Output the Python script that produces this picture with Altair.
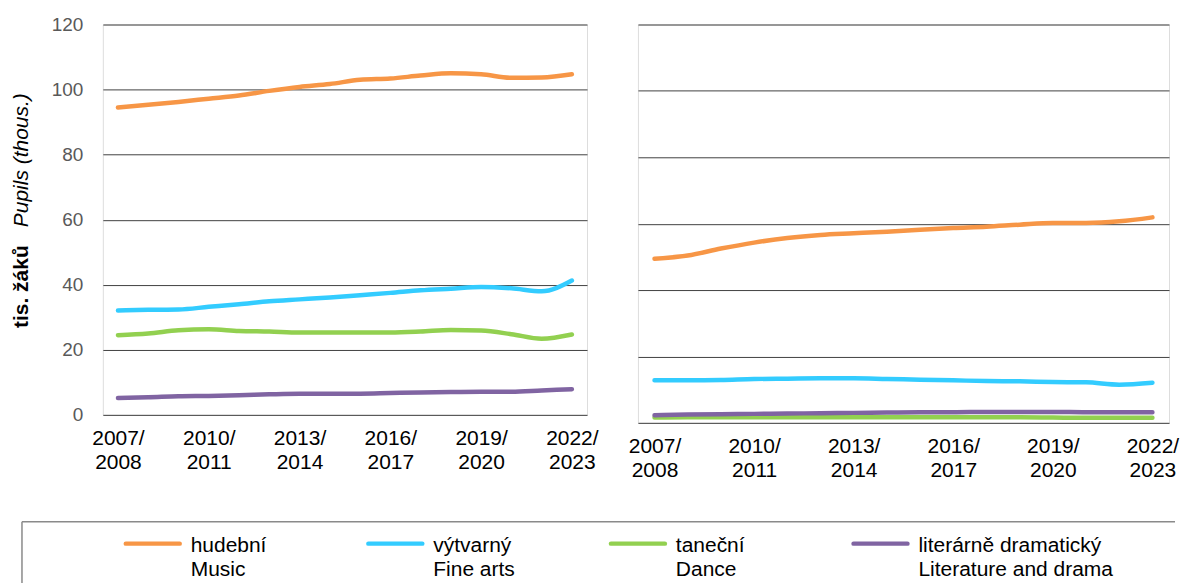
import altair as alt
import pandas as pd

FONT = "Liberation Sans"

# ---- data ----
years = [2007, 2008, 2009, 2010, 2011, 2012, 2013, 2014,
         2015, 2016, 2017, 2018, 2019, 2020, 2021, 2022]
tick_years = [2007, 2010, 2013, 2016, 2019, 2022]
y_ticks = [0, 20, 40, 60, 80, 100, 120]

series_cz = ["hudební", "výtvarný", "taneční", "literárně dramatický"]
series_en = ["Music", "Fine arts", "Dance", "Literature and drama"]
colors = ["#F79646", "#33CCFF", "#92D050", "#8064A2"]

# left panel (thous.)
music_a = [94.5, 95.3, 96.2, 97.2, 98.2, 99.6, 100.8, 101.7, 103.0, 103.4, 104.3, 105.0, 104.7, 103.6, 103.7, 104.7]
fine_a = [32.1, 32.3, 32.4, 33.2, 34.0, 34.9, 35.5, 36.1, 36.8, 37.5, 38.3, 38.8, 39.3, 38.9, 38.0, 41.3]
dance_a = [24.5, 25.0, 26.0, 26.3, 25.8, 25.6, 25.3, 25.3, 25.3, 25.3, 25.6, 26.1, 25.9, 24.8, 23.4, 24.7]
lit_a = [5.2, 5.4, 5.7, 5.8, 6.0, 6.3, 6.5, 6.5, 6.5, 6.7, 6.9, 7.0, 7.1, 7.1, 7.5, 7.9]

# right panel (thous.)
music_b = [49.4, 50.4, 52.5, 54.3, 55.7, 56.6, 57.1, 57.6, 58.2, 58.7, 59.1, 59.7, 60.2, 60.2, 60.7, 61.9]
fine_b = [12.8, 12.8, 12.9, 13.2, 13.3, 13.4, 13.4, 13.2, 13.0, 12.8, 12.6, 12.5, 12.3, 12.2, 11.5, 12.1]
dance_b = [1.6, 1.7, 1.7, 1.7, 1.7, 1.7, 1.7, 1.7, 1.7, 1.7, 1.7, 1.7, 1.6, 1.5, 1.5, 1.5]
lit_b = [2.3, 2.5, 2.6, 2.7, 2.8, 2.9, 3.0, 3.1, 3.2, 3.2, 3.3, 3.3, 3.3, 3.2, 3.2, 3.2]

title_bold = ["tis. žáků"]
title_italic = ["Pupils (thous.)"]


def long_df(values_list):
    rows = []
    for name, vals in zip(series_en, values_list):
        for yr, v in zip(years, vals):
            rows.append({"year": yr, "value": v, "series": name})
    return pd.DataFrame(rows)


df_a = long_df([music_a, fine_a, dance_a, lit_a])
df_b = long_df([music_b, fine_b, dance_b, lit_b])

color_scale = alt.Scale(domain=series_en, range=colors)


def x_enc():
    return alt.X(
        "year:Q",
        scale=alt.Scale(domain=[2006.5, 2022.5], nice=False, zero=False),
        axis=alt.Axis(
            values=tick_years,
            labelExpr="[datum.value + '/', '' + (datum.value + 1)]",
            title=None, ticks=False, domain=False, grid=False,
            labelFontSize=21, labelColor="#000000", labelPadding=13,
            labelLineHeight=24, labelFont=FONT, labelFlush=False,
            labelOverlap=False,
        ),
    )


def y_enc(show_labels):
    return alt.Y(
        "value:Q",
        scale=alt.Scale(domain=[0, 120], nice=False),
        axis=alt.Axis(
            values=y_ticks, title=None, ticks=False, domain=False,
            grid=True, gridColor="#404040", gridWidth=1,
            labels=show_labels, labelFontSize=19, labelColor="#595959",
            labelPadding=20, labelFont=FONT, labelFlush=False,
        ),
    )


def lines(df, show_labels):
    return alt.Chart(df).mark_line(
        strokeWidth=4.5, interpolate="monotone", strokeCap="round"
    ).encode(
        x=x_enc(),
        y=y_enc(show_labels),
        color=alt.Color("series:N", scale=color_scale, legend=None),
    )


t_bold = alt.Chart(pd.DataFrame({"t": title_bold})).mark_text(
    angle=270, align="left", baseline="middle", fontWeight="bold",
    fontSize=21, font=FONT, color="#000000"
).encode(x=alt.value(-81), y=alt.value(304), text="t:N")

t_ital = alt.Chart(pd.DataFrame({"t": title_italic})).mark_text(
    angle=270, align="left", baseline="middle", fontStyle="italic",
    fontSize=21, font=FONT, color="#000000"
).encode(x=alt.value(-81), y=alt.value(203), text="t:N")

left = alt.layer(lines(df_a, True), t_bold, t_ital).properties(width=485, height=391)
right = lines(df_b, False).properties(width=532, height=399)

top = alt.hconcat(left, right, spacing=51, bounds="flush")

# ---- legend (origin aligned with the left plot area) ----
leg_df = pd.DataFrame({
    "slot": [0, 1, 2, 3],
    "series": series_en,
    "label": [c + "\n" + e for c, e in zip(series_cz, series_en)],
})
leg_x = alt.X("slot:Q", scale=alt.Scale(domain=[0, 3], range=[23, 752]), axis=None)

box_df = pd.DataFrame({"b": [0]})
box_top = alt.Chart(box_df).mark_rule(stroke="#8a8a8a", strokeWidth=1.5).encode(
    x=alt.value(-81), x2=alt.value(1074), y=alt.value(0)
)
box_left = alt.Chart(box_df).mark_rule(stroke="#8a8a8a", strokeWidth=1.5).encode(
    x=alt.value(-81), y=alt.value(0), y2=alt.value(120)
)

sym = alt.Chart(leg_df).mark_rule(strokeWidth=4.5, strokeCap="round", x2Offset=54).encode(
    x=leg_x, x2=alt.X2("slot:Q"), y=alt.value(22),
    color=alt.Color("series:N", scale=color_scale, legend=None),
)

txt = alt.Chart(leg_df).mark_text(
    align="left", baseline="alphabetic", dx=65, lineBreak="\n", lineHeight=24,
    fontSize=21, font=FONT, color="#000000"
).encode(x=leg_x, y=alt.value(30), text="label:N")

legend = alt.layer(box_top, box_left, sym, txt).properties(
    width=1060, height=80, view=alt.ViewBackground(stroke="transparent")
)

chart = alt.vconcat(top, legend, spacing=38).properties(
    padding={"left": 2, "top": 6, "right": 0, "bottom": 0},
    background="white",
).configure_view(stroke="#000000", strokeWidth=1).configure(font=FONT)

chart.save("out.html", embed_options={"renderer": "svg", "actions": False})
